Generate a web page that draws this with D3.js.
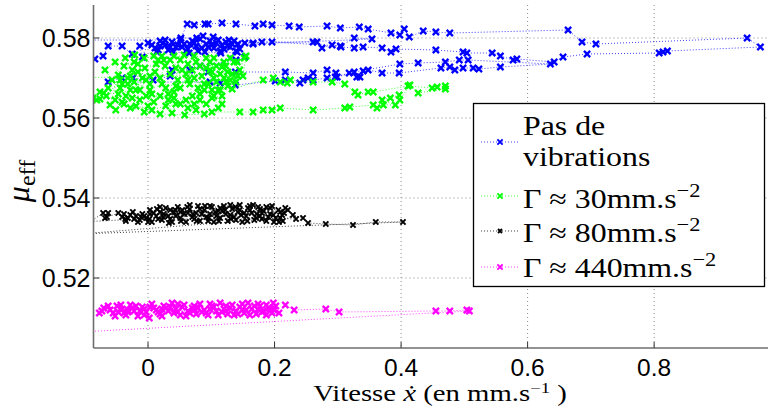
<!DOCTYPE html>
<html>
<head>
<meta charset="utf-8">
<script src="https://cdn.jsdelivr.net/npm/d3@7"></script>
<style>
  body { margin: 0; background: #fff; }
  svg { display: block; }
</style>
</head>
<body>
<div id="chart"></div>
<script>
// Ticks
const xTicks = [0, 0.2, 0.4, 0.6, 0.8];
const yTicks = [0.52, 0.54, 0.56, 0.58];

// Legend
const legendLines = [["Pas de", "vibrations"], ["Γ ≈ 30mm.s"], ["Γ ≈ 80mm.s"], ["Γ ≈ 440mm.s"]];
const legendSups = ["", "−2", "−2", "−2"];
const seriesColors = ["#0000ff", "#00ff00", "#000000", "#ff00ff"];

// "Pas de vibrations" (velocity, mu_eff), in acquisition order
const blue = [
  [-0.108,0.57775],[-0.084,0.57475],[-0.071,0.5755],[-0.063,0.578],[-0.041,0.578],[-0.025,0.576],[-0.013,0.578],[-0.009,0.57525],
  [0.000,0.57875],[0.011,0.5775],[0.019,0.57925],[0.027,0.57825],[0.032,0.577],[0.038,0.579],[0.044,0.57775],[0.051,0.5795],
  [0.057,0.5785],[0.063,0.57725],[0.070,0.57925],[0.076,0.578],[0.082,0.57975],[0.087,0.5805],[0.092,0.5785],[0.098,0.57925],
  [0.104,0.5775],[0.111,0.5795],[0.117,0.57825],[0.123,0.579],[0.130,0.57775],[0.136,0.57925],[0.142,0.5785],[0.153,0.57875],
  [0.166,0.57875],[0.180,0.579],[0.261,0.579],[0.267,0.579],[0.275,0.5775],[0.291,0.57825],[0.305,0.57775],[0.326,0.5775],
  [0.340,0.57775],[0.370,0.5775],[0.384,0.5765],[0.392,0.57725],[0.455,0.577],[0.498,0.5765],[0.504,0.57625],[0.544,0.57625],
  [0.557,0.5755],[0.577,0.5745],[0.583,0.57475],[0.642,0.574],[0.656,0.57525],[0.694,0.576],[0.808,0.57625],[0.814,0.5765],
  [0.821,0.57675],[0.968,0.57775],[0.947,0.58],[0.708,0.5785],[0.686,0.579],[0.664,0.582],[0.477,0.58125],[0.455,0.5815],
  [0.435,0.58175],[0.413,0.58025],[0.405,0.58225],[0.398,0.58075],[0.384,0.58125],[0.348,0.58225],[0.334,0.58275],[0.304,0.5825],
  [0.283,0.583],[0.239,0.58275],[0.223,0.583],[0.196,0.58325],[0.182,0.5835],[0.169,0.583],[0.139,0.5835],[0.117,0.58375],
  [0.095,0.5835],[0.090,0.5835],[0.073,0.58325],[0.062,0.5835],
  [0.047,0.57825],[0.060,0.57675],[0.073,0.57875],[0.085,0.5775],[0.101,0.57825],[0.114,0.57675],[0.126,0.578],[0.139,0.57675],
  [0.153,0.57525],[0.139,0.5745],[0.082,0.573],[0.066,0.572],[0.038,0.572],[0.035,0.5705],[0.008,0.5695],[-0.024,0.57],
  [-0.041,0.57],[-0.063,0.569],[0.098,0.569],[0.114,0.56875],[0.138,0.56825],[0.201,0.56925],[0.217,0.5695],[0.240,0.56875],
  [0.245,0.5695],[0.253,0.57],[0.261,0.5695],[0.283,0.57],[0.296,0.57025],[0.318,0.57125],[0.330,0.57025],[0.335,0.57025],
  [0.340,0.57175],[0.348,0.572],[0.370,0.57125],[0.397,0.57125],[0.463,0.5725],[0.477,0.57275],[0.485,0.572],[0.498,0.5725],
  [0.514,0.5725],[0.523,0.57225],[0.557,0.57275],[0.636,0.5735],[0.506,0.5745],[0.492,0.5745],[0.470,0.574],[0.427,0.57375],
  [0.398,0.5735],[0.326,0.5715],[0.299,0.57025],[0.297,0.57125],[0.283,0.572],[0.261,0.57125],[0.217,0.5715],[0.138,0.5715],
  [0.095,0.5715],[0.145,0.57725],[0.133,0.5785],[0.120,0.57725],[0.108,0.57875],[0.095,0.57775],[0.079,0.57675],[0.066,0.5785],
  [0.054,0.57775],[0.035,0.57775],[0.024,0.57875],[0.016,0.577],[0.006,0.57825],[0.196,0.579],[0.304,0.578],[0.326,0.58],
  [0.354,0.57975],[0.166,0.5785],[0.019,0.578],
  [0.014,0.5765],[0.040,0.5765],[0.065,0.57625],[0.090,0.5765],[0.115,0.57625],[0.141,0.5765],[0.128,0.5795],[0.103,0.58025],
  [0.077,0.58],[0.052,0.58],[0.027,0.5795],[-0.108,0.5795]
];

// "Γ ≈ 30mm.s−2"
const green = [
  [-0.108,0.568],[-0.087,0.565],[-0.081,0.5645],[-0.076,0.56475],[-0.070,0.56625],[-0.063,0.5675],[-0.057,0.5695],[-0.068,0.572],
  [-0.052,0.574],[-0.047,0.57075],[-0.060,0.56325],[-0.051,0.562],[-0.041,0.564],[-0.035,0.5655],[-0.044,0.5675],[-0.032,0.5685],
  [-0.025,0.572],[-0.036,0.575],[-0.021,0.57575],[-0.016,0.5735],[-0.009,0.57],[-0.019,0.567],[-0.013,0.5645],[-0.006,0.5615],
  [0.000,0.563],[0.006,0.566],[0.003,0.5685],[0.011,0.5715],[0.016,0.5745],[0.022,0.5755],[0.027,0.573],[0.019,0.57],
  [0.028,0.5675],[0.032,0.5645],[0.038,0.56125],[0.044,0.5635],[0.041,0.5665],[0.047,0.5695],[0.044,0.5725],[0.051,0.5745],
  [0.057,0.57575],[0.063,0.5735],[0.060,0.571],[0.066,0.5685],[0.070,0.5655],[0.063,0.5625],[0.076,0.562],[0.082,0.5645],
  [0.079,0.5675],[0.085,0.5705],[0.082,0.573],[0.092,0.575],[0.098,0.574],[0.101,0.5715],[0.095,0.5685],[0.104,0.5655],
  [0.111,0.5625],[0.117,0.5635],[0.114,0.567],[0.120,0.57],[0.123,0.573],[0.130,0.575],[0.136,0.574],[0.141,0.574],
  [0.117,0.57275],[0.133,0.571],[0.126,0.568],[0.139,0.569],[0.145,0.572],[0.152,0.575],[0.155,0.5755],[0.150,0.5705],
  [0.111,0.567],[0.133,0.56725],
  [0.182,0.5695],[0.198,0.57],[0.209,0.569],[0.220,0.56875],[0.225,0.5695],[0.261,0.569],[0.291,0.569],[0.311,0.5685],
  [0.327,0.5665],[0.332,0.56575],[0.348,0.5665],[0.356,0.5665],[0.411,0.568],[0.449,0.5675],[0.457,0.56775],[0.470,0.568],
  [0.470,0.56725],[0.427,0.56625],[0.414,0.56825],[0.398,0.5645],[0.397,0.56575],[0.383,0.565],[0.370,0.5645],[0.391,0.56325],
  [0.372,0.56325],[0.362,0.5625],[0.356,0.56325],[0.319,0.56275],[0.311,0.5625],[0.261,0.562],[0.209,0.5625],[0.196,0.562],
  [0.182,0.562],[0.166,0.5615],[0.145,0.5615],
  [0.101,0.5615],[0.089,0.561],[0.058,0.56075],[0.019,0.561],[-0.028,0.5625],[-0.052,0.5645],[-0.066,0.5655],[-0.044,0.5695],
  [-0.028,0.5705],[-0.005,0.5725],[0.013,0.5735],[0.035,0.5745],[0.054,0.572],[0.073,0.57],[0.089,0.567],[0.108,0.569],
  [0.098,0.572],[0.076,0.574],[0.051,0.5675],[0.032,0.566],[0.009,0.564],[-0.013,0.567],[-0.003,0.5695],[-0.028,0.567],
  [-0.047,0.566],[-0.076,0.5665],
  [-0.038,0.573],[-0.022,0.574],[-0.006,0.575],[0.009,0.5755],[0.025,0.5745],[0.041,0.5755],[0.073,0.5755],[0.104,0.575],
  [0.120,0.574],[0.108,0.573],[0.092,0.5725],[0.070,0.572],[0.035,0.571],[0.003,0.5705],[-0.016,0.5715],[-0.032,0.57],
  [-0.041,0.5685],[-0.022,0.569],[0.003,0.567],[0.022,0.5685],[0.044,0.568],[0.063,0.5695],[0.089,0.5685],[0.104,0.57],
  [0.126,0.5715],[0.142,0.5705],[0.123,0.569],[0.101,0.567],[0.082,0.566],[0.060,0.5645],[0.041,0.565],[0.019,0.5655],
  [-0.003,0.5655],[-0.025,0.565],[-0.038,0.5635],[-0.019,0.563],[0.006,0.562],[0.028,0.563],[0.051,0.5635],[0.073,0.5635],
  [0.092,0.5635],[0.101,0.565],[0.117,0.5655],[0.130,0.5695],[0.114,0.571],[-0.108,0.57]
];

// "Γ ≈ 80mm.s−2"
const black = [
  [-0.108,0.53225],[-0.071,0.53625],[-0.065,0.53525],[-0.063,0.53625],[-0.068,0.535],[-0.047,0.53625],[-0.041,0.53525],[-0.035,0.53425],
  [-0.028,0.53575],[-0.022,0.53475],[-0.016,0.534],[-0.009,0.536],[-0.003,0.535],[0.003,0.537],[0.006,0.534],[0.013,0.5355],
  [0.019,0.5365],[0.022,0.5345],[0.028,0.5375],[0.032,0.5355],[0.038,0.534],[0.041,0.5365],[0.047,0.53775],[0.051,0.535],
  [0.057,0.536],[0.060,0.534],[0.066,0.53725],[0.070,0.53525],[0.076,0.53625],[0.079,0.538],[0.082,0.53425],[0.089,0.537],
  [0.092,0.53525],[0.098,0.536],[0.101,0.53775],[0.104,0.534],[0.111,0.53675],[0.114,0.535],[0.120,0.538],[0.123,0.536],
  [0.126,0.53425],[0.133,0.53725],[0.136,0.53525],[0.142,0.5365],[0.145,0.53825],[0.149,0.534],[0.155,0.5355],[0.158,0.5375],
  [0.164,0.53625],[0.168,0.5345],[0.174,0.53775],[0.177,0.5355],[0.183,0.53675],[0.187,0.53425],[0.193,0.536],[0.196,0.538],
  [0.202,0.535],[0.206,0.537],[0.212,0.53575],[0.217,0.5375],[0.213,0.53425],
  [0.229,0.53575],[0.245,0.535],[0.253,0.53375],[0.281,0.5335],[0.324,0.53325],[0.360,0.534],[0.403,0.534],[-0.108,0.531],
  [0.209,0.535],[0.199,0.534],[0.190,0.53525],[0.180,0.53625],[0.171,0.535],[0.161,0.537],[0.152,0.53625],[0.139,0.5345],
  [0.130,0.53575],[0.117,0.53675],[0.108,0.5355],[0.095,0.53425],[0.085,0.536],[0.073,0.53475],[0.063,0.53625],[0.054,0.537],
  [0.044,0.5355],[0.035,0.53475],[0.025,0.536],[0.016,0.53475],[0.009,0.53625],[0.000,0.534],[-0.006,0.5355],[-0.013,0.5345],
  [-0.019,0.5355],[-0.032,0.535],[-0.038,0.536],
  [-0.036,0.53475],[-0.024,0.5365],[-0.011,0.53525],[0.002,0.53475],[0.014,0.53725],[0.024,0.53525],[0.033,0.53375],[0.043,0.537],
  [0.052,0.53425],[0.062,0.53775],[0.071,0.536],[0.077,0.53425],[0.090,0.538],[0.096,0.535],[0.106,0.5365],[0.112,0.53425],
  [0.122,0.537],[0.131,0.53475],[0.138,0.53775],[0.147,0.53575],[0.157,0.53425],[0.166,0.53825],[0.172,0.536],[0.180,0.53475],
  [0.187,0.53775],[0.198,0.53575],[0.207,0.534],[0.215,0.53625],[0.221,0.537],[0.234,0.53475],
  [0.003,0.536],[0.019,0.53775],[0.035,0.537],[0.051,0.5365],[0.066,0.53825],[0.082,0.53725],[0.098,0.538],[0.114,0.5375],
  [0.130,0.53825],[0.145,0.537],[0.161,0.538],[0.177,0.53725],[0.193,0.5375],[0.209,0.5365],[-0.108,0.534]
];

// "Γ ≈ 440mm.s−2"
const magenta = [
  [0.193,0.51225],[0.180,0.5115],[0.168,0.513],[0.155,0.512],[0.142,0.511],[0.130,0.5125],[0.117,0.5115],[0.104,0.51275],
  [0.092,0.51125],[0.079,0.5125],[0.066,0.51125],[0.054,0.51275],[0.041,0.51125],[0.028,0.5125],[0.016,0.5115],[0.003,0.51275],
  [-0.013,0.51175],[-0.025,0.5125],[-0.038,0.51125],[-0.060,0.512],
  [-0.077,0.51125],[-0.070,0.5125],[-0.055,0.51125],[-0.049,0.513],[-0.047,0.5115],[-0.041,0.51225],[-0.035,0.51075],[-0.028,0.51325],
  [-0.022,0.51175],[-0.016,0.5105],[-0.009,0.51275],[-0.003,0.5115],[0.002,0.51],[0.006,0.5135],[0.013,0.512],[0.019,0.511],
  [0.025,0.513],[0.032,0.51175],[0.038,0.51375],[0.044,0.51225],[0.051,0.51075],[0.057,0.51325],[0.063,0.51175],[0.070,0.5125],
  [0.076,0.511],[0.082,0.5135],[0.089,0.512],[0.095,0.51075],[0.101,0.513],[0.108,0.51175],[0.114,0.51375],[0.120,0.51225],
  [0.126,0.511],[0.133,0.51325],[0.139,0.51175],[0.145,0.51275],[0.152,0.51125],[0.158,0.51375],[0.164,0.51225],[0.171,0.511],
  [0.177,0.513],[0.183,0.51175],[0.190,0.5125],[0.196,0.51125],[0.198,0.51375],[0.199,0.512],
  [0.187,0.51325],[0.174,0.51225],[0.149,0.512],[0.123,0.51175],[0.098,0.51225],[0.073,0.512],[0.047,0.5115],[0.022,0.51225],
  [-0.006,0.51225],[-0.032,0.512],
  [-0.073,0.51175],[-0.063,0.513],[-0.052,0.5105],[-0.043,0.51325],[-0.032,0.5115],[-0.019,0.513],[-0.006,0.51075],[0.009,0.5125],
  [0.022,0.5105],[0.035,0.51275],[0.047,0.5135],[0.060,0.5105],[0.073,0.513],[0.085,0.5115],[0.098,0.5135],[0.111,0.51075],
  [0.123,0.513],[0.136,0.51075],[0.149,0.5135],[0.161,0.51075],[0.174,0.5135],[0.187,0.51075],[0.202,0.513],[0.207,0.51125],
  [0.217,0.51325],[0.231,0.512],[0.281,0.51225],[0.302,0.5115],[0.455,0.51175],[0.477,0.51175],[0.504,0.512],[0.508,0.51175],
  [-0.108,0.5065]
];

const series = [blue, green, black, magenta];

const W = 770, H = 408;
const margin = { top: 5, right: 2, bottom: 60, left: 93.5 };

const svg = d3.select("#chart").append("svg")
  .attr("width", W).attr("height", H)
  .attr("viewBox", `0 0 ${W} ${H}`);

const x = d3.scaleLinear().domain([-0.0862, 0.980]).range([margin.left, W - margin.right]);
const y = d3.scaleLinear().domain([0.5025, 0.58825]).range([H - margin.bottom, margin.top]);

const pLeft = margin.left, pRight = W - margin.right, pTop = margin.top, pBottom = H - margin.bottom;

svg.append("defs").append("clipPath").attr("id", "plot")
  .append("rect").attr("x", pLeft).attr("y", pTop).attr("width", pRight - pLeft).attr("height", pBottom - pTop);

// Dotted grid
const grid = svg.append("g").attr("stroke", "#8a8a8a").attr("stroke-width", 1).attr("stroke-dasharray", "1,3");
grid.selectAll(".gx").data(xTicks).join("line")
  .attr("x1", d => x(d)).attr("x2", d => x(d)).attr("y1", pTop).attr("y2", pBottom);
grid.selectAll(".gy").data(yTicks).join("line")
  .attr("x1", pLeft).attr("x2", pRight).attr("y1", d => y(d)).attr("y2", d => y(d));

// Series: dotted connection lines + x markers
const plot = svg.append("g").attr("clip-path", "url(#plot)");
const line = d3.line().x(d => x(d[0])).y(d => y(d[1]));
const cross = s => `M${-s},${-s}L${s},${s}M${-s},${s}L${s},${-s}`;

series.forEach((data, i) => {
  const c = seriesColors[i];
  plot.append("path")
    .datum(data)
    .attr("fill", "none")
    .attr("stroke", c)
    .attr("stroke-opacity", 0.75)
    .attr("stroke-width", 1)
    .attr("stroke-dasharray", "1,2")
    .attr("d", line);
  const s = i === 2 ? 2.6 : 3.1;
  plot.append("g").selectAll("path").data(data).join("path")
    .attr("transform", d => `translate(${x(d[0])},${y(d[1])})`)
    .attr("d", cross(s))
    .attr("stroke", c)
    .attr("stroke-width", i === 2 ? 2 : 2.3)
    .attr("fill", "none");
});

// Axes (left and bottom only, ticks pointing inward)
const axisColor = "#6e6e6e";
svg.append("line").attr("x1", pLeft).attr("x2", pLeft).attr("y1", pTop).attr("y2", pBottom)
  .attr("stroke", axisColor).attr("stroke-width", 1.6);
svg.append("line").attr("x1", pLeft).attr("x2", pRight).attr("y1", pBottom).attr("y2", pBottom)
  .attr("stroke", axisColor).attr("stroke-width", 1.6);
svg.selectAll(".tx").data(xTicks).join("line")
  .attr("x1", d => x(d)).attr("x2", d => x(d)).attr("y1", pBottom).attr("y2", pBottom - 6)
  .attr("stroke", "#333").attr("stroke-width", 1);
svg.selectAll(".ty").data(yTicks).join("line")
  .attr("x1", pLeft).attr("x2", pLeft + 6).attr("y1", d => y(d)).attr("y2", d => y(d))
  .attr("stroke", "#333").attr("stroke-width", 1);

const sans = "'Liberation Sans', Arial, Helvetica, sans-serif";
const serif = "'Liberation Serif', 'Times New Roman', serif";

svg.selectAll(".lx").data(xTicks).join("text")
  .attr("x", d => x(d)).attr("y", 376)
  .attr("text-anchor", "middle")
  .attr("font-family", sans).attr("font-size", 24.5)
  .text(d => d3.format("")(d));
svg.selectAll(".ly").data(yTicks).join("text")
  .attr("x", pLeft - 3).attr("y", d => y(d) + 9)
  .attr("text-anchor", "end")
  .attr("font-family", sans).attr("font-size", 25)
  .text(d => d3.format(".2f")(d));

// Axis titles
const xl = svg.append("text")
  .attr("transform", `translate(440,401) scale(1.25,1)`)
  .attr("text-anchor", "middle")
  .attr("font-family", serif).attr("font-size", 23);
xl.append("tspan").text("Vitesse ");
xl.append("tspan").attr("font-style", "italic").text("x\u0307");
xl.append("tspan").text(" (en mm.s");
xl.append("tspan").attr("font-size", 15).attr("dy", -8).text("−1");
xl.append("tspan").attr("dy", 8).text(" )");

const yl = svg.append("text")
  .attr("transform", `translate(29,181) rotate(-90)`)
  .attr("text-anchor", "middle")
  .attr("font-family", serif);
yl.append("tspan").attr("font-style", "italic").attr("font-size", 32).text("μ");
yl.append("tspan").attr("font-size", 24).attr("dy", 6).text("eff");

// Legend
const lg = svg.append("g");
lg.append("rect").attr("x", 473.5).attr("y", 103.5).attr("width", 291).attr("height", 183)
  .attr("fill", "#fff").attr("stroke", "#000").attr("stroke-width", 1.3);
const sampleY = [142, 196, 231, 267];
const textY = [[135, 166], [208], [242], [277]];
legendLines.forEach((lines, i) => {
  const c = seriesColors[i];
  lg.append("line").attr("x1", 481).attr("x2", 519).attr("y1", sampleY[i]).attr("y2", sampleY[i])
    .attr("stroke", c).attr("stroke-opacity", 0.75).attr("stroke-dasharray", "1,2");
  lg.append("path").attr("transform", `translate(500,${sampleY[i]})`)
    .attr("d", cross(i === 2 ? 2 : 2.6)).attr("stroke", c).attr("stroke-width", 1.9);
  lines.forEach((t, j) => {
    const tx = lg.append("text")
      .attr("transform", `translate(523,${textY[i][j]}) scale(1.18,1)`)
      .attr("font-family", serif).attr("font-size", 27);
    tx.append("tspan").text(t);
    if (legendSups[i] && j === lines.length - 1) {
      tx.append("tspan").attr("font-size", 19).attr("dy", -11).text(legendSups[i]);
    }
  });
});
</script>
</body>
</html>
